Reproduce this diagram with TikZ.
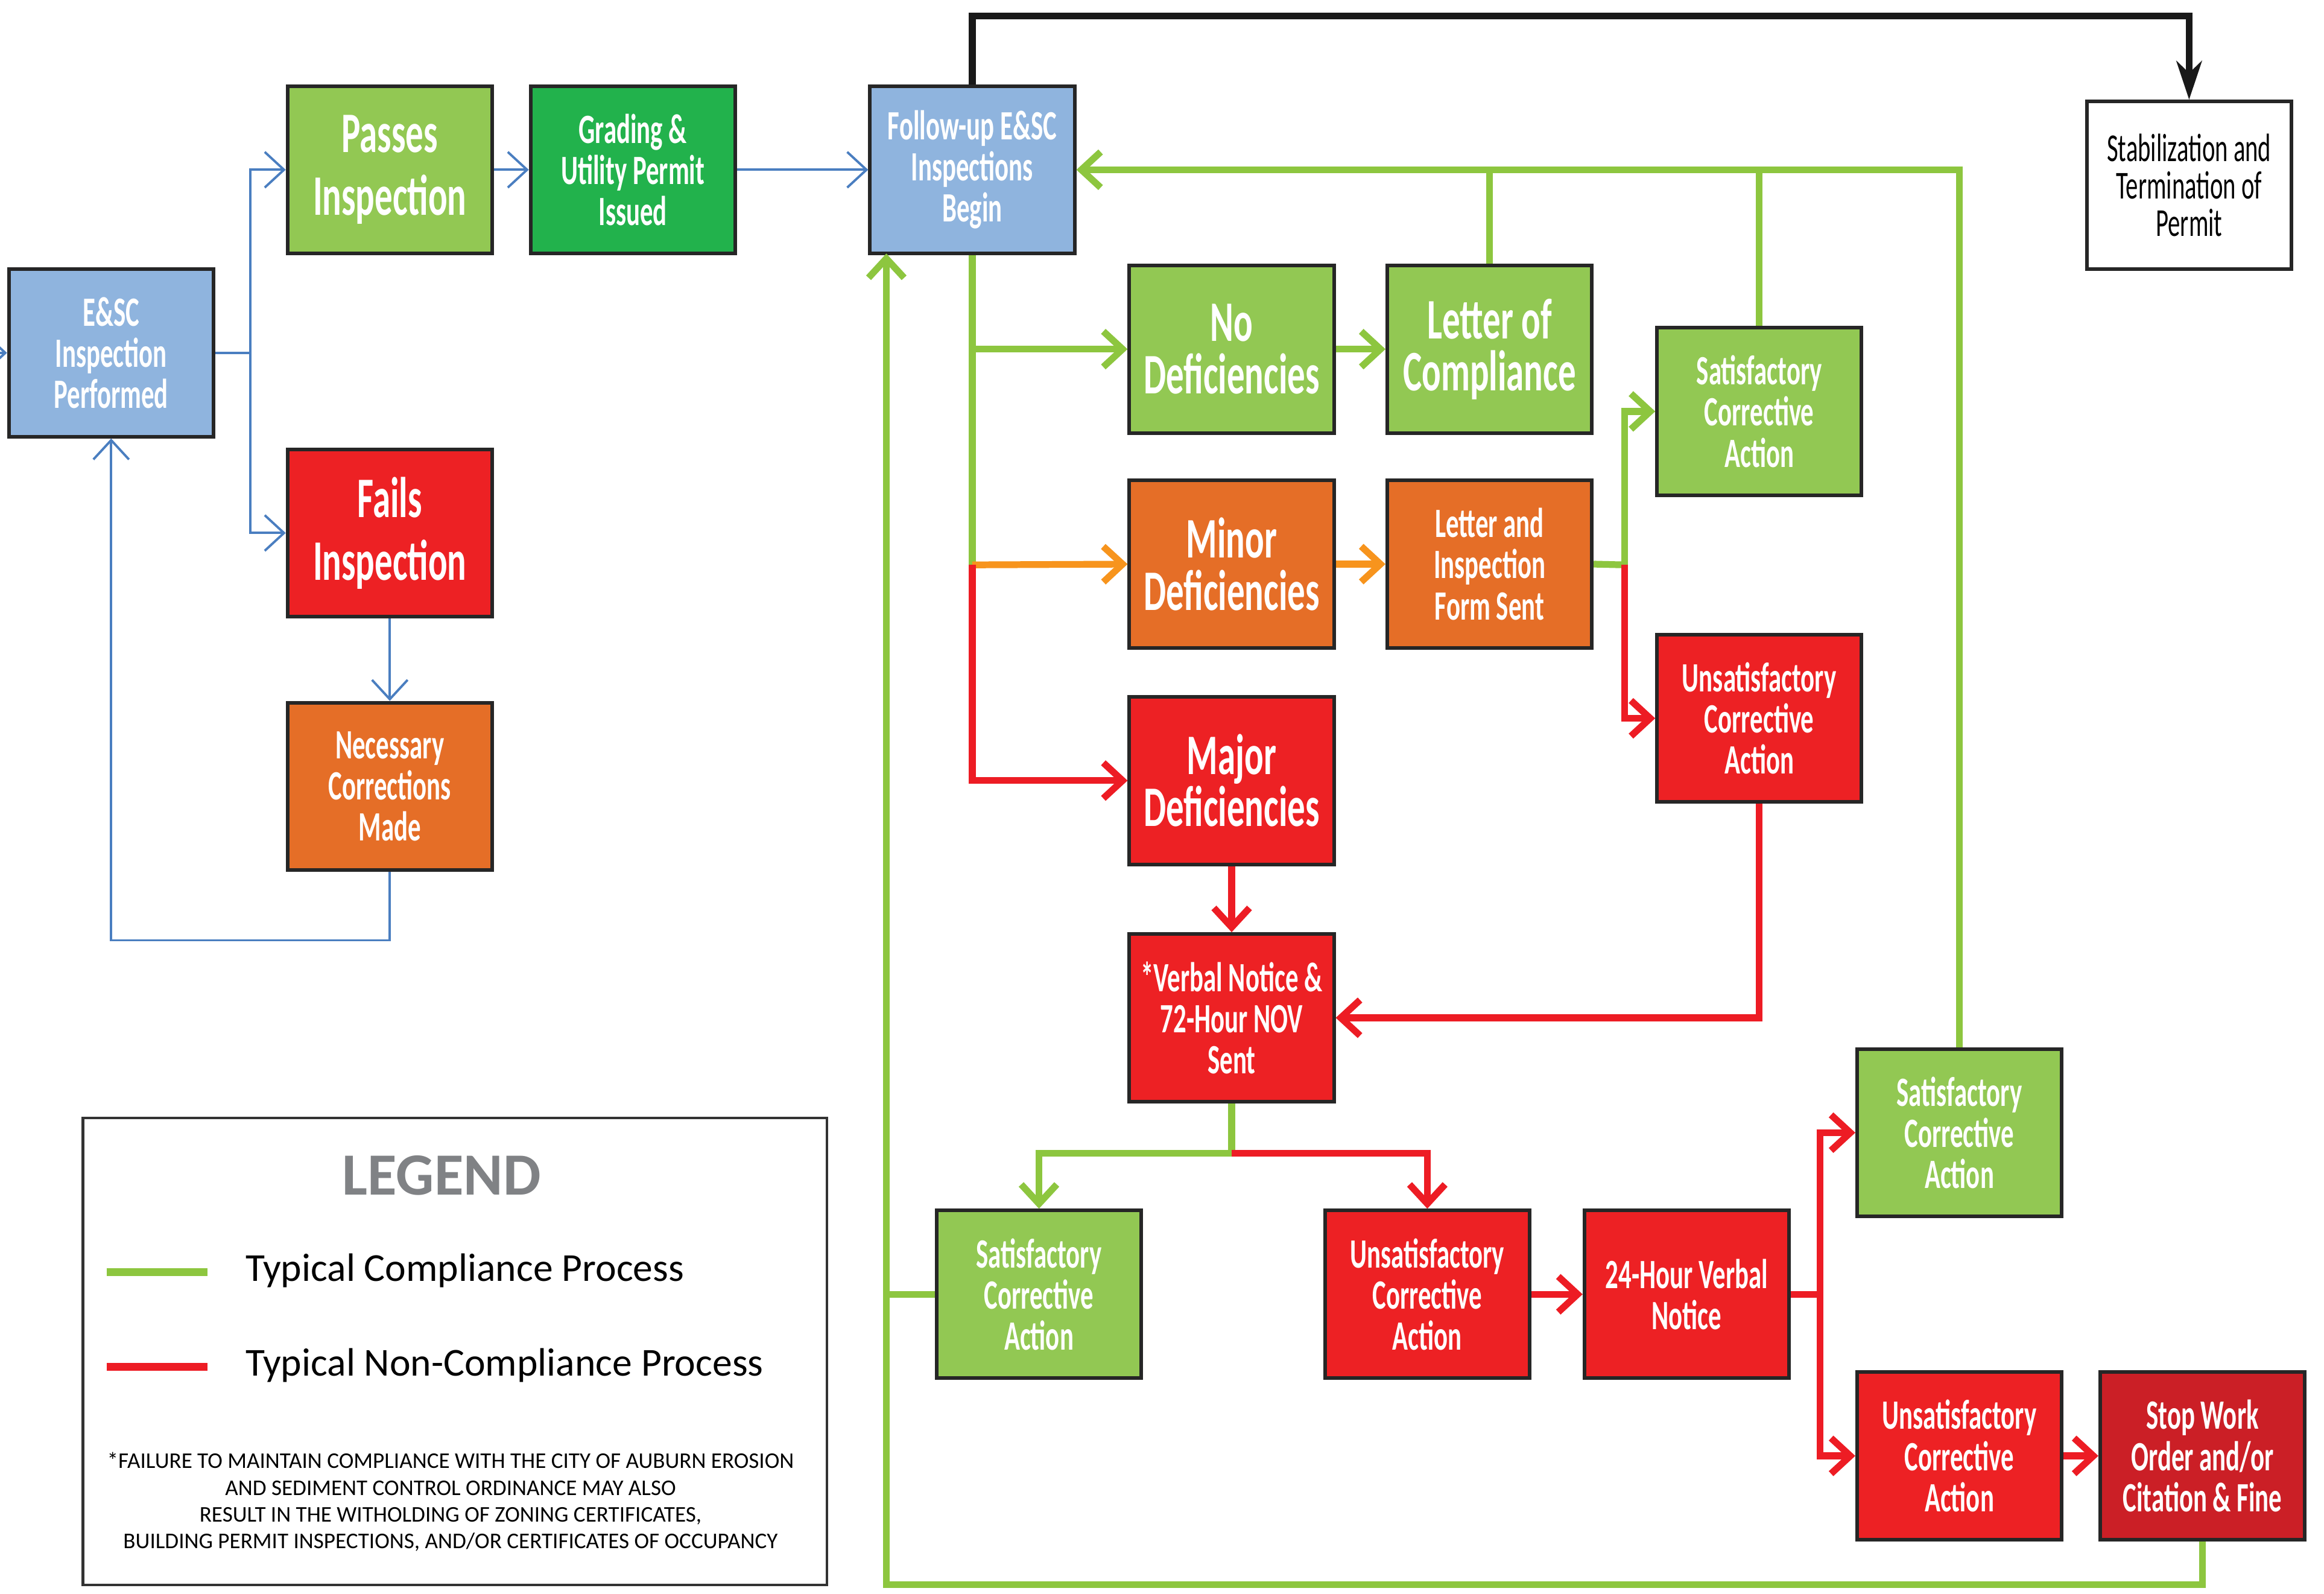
\documentclass[tikz,border=0pt]{standalone}
\usepackage{fontspec}
\setmainfont{Carlito}[FakeStretch=0.62]
\newfontfamily\legendfont{Carlito}
\usepackage{xcolor}
\usepackage{tikz}
\usetikzlibrary{arrows.meta}

\definecolor{fillblue}{HTML}{8FB4DE}
\definecolor{fillgreen}{HTML}{92C853}
\definecolor{filldkgreen}{HTML}{22B24C}
\definecolor{fillred}{HTML}{ED2124}
\definecolor{filldkred}{HTML}{CB1F26}
\definecolor{fillorange}{HTML}{E56E27}
\definecolor{lineblue}{HTML}{4A7EC0}
\definecolor{linegreen}{HTML}{8DC63F}
\definecolor{linered}{HTML}{ED1C24}
\definecolor{lineorange}{HTML}{F7941D}
\definecolor{legendgray}{HTML}{808285}

\tikzset{
  box/.style={draw=black!85, line width=0.7pt, minimum width=13.8mm, minimum height=11.3mm,
    inner sep=1pt, align=center, text=white, font=\bfseries\fontsize{8}{7.9}\selectfont},
  bigbox/.style={box, font=\bfseries\fontsize{11}{12}\selectfont},
  defbox/.style={box, font=\bfseries\fontsize{11}{10}\selectfont},
  arr/.style={-{Straight Barb[length=1.3mm,width=2.4mm]}},
  bline/.style={draw=lineblue, line width=0.45pt},
  gline/.style={draw=linegreen, line width=1.3pt},
  rline/.style={draw=linered, line width=1.3pt},
  oline/.style={draw=lineorange, line width=1.3pt},
  kline/.style={draw=black!90, line width=1.3pt, -{Stealth[length=2.6mm,width=1.7mm,inset=0.8mm]}}
}

\begin{document}
\begin{tikzpicture}[x=0.1mm, y=-0.1mm]
			\useasboundingbox (0,0) rectangle (1568,1075);
			% boxes, left part
			\node[box, fill=fillblue] (esc) at (75,238) {E\&SC\\Inspection\\Performed};
			\node[bigbox, fill=fillgreen] (passes) at (263,114.5) {Passes\\Inspection};
			\node[box, fill=filldkgreen] (grading) at (427,114.5) {Grading \&\\Utility Permit\\Issued};
			\node[bigbox, fill=fillred] (fails) at (263,359.5) {Fails\\Inspection};
			\node[box, fill=fillorange] (necessary) at (263,530.5) {Necessary\\Corrections\\Made};
			% boxes, follow-up part
			\node[box, fill=fillblue] (followup) at (656,114.5) {Follow-up E\&SC\\Inspections\\Begin};
			\node[box, fill=white, text=black, font=\fontsize{7.6}{7.2}\selectfont] (stab) at (1477,125) {Stabilization and\\Termination of\\Permit};
			\node[defbox, fill=fillgreen] (nodef) at (831,235.5) {No\\Deficiencies};
			\node[defbox, fill=fillgreen] (letter) at (1005,235.5) {Letter of\\Compliance};
			\node[box, fill=fillgreen] (satisA) at (1187,277.5) {Satisfactory\\Corrective\\Action};
			\node[defbox, fill=fillorange] (minor) at (831,380.5) {Minor\\Deficiencies};
			\node[box, fill=fillorange] (letterinsp) at (1005,380.5) {Letter and\\Inspection\\Form Sent};
			\node[box, fill=fillred] (unsatA) at (1187,484.5) {Unsatisfactory\\Corrective\\Action};
			\node[defbox, fill=fillred] (major) at (831,526.5) {Major\\Deficiencies};
			\node[box, fill=fillred] (verbal) at (831,686.5) {*Verbal Notice \&\\72-Hour NOV\\Sent};
			\node[box, fill=fillgreen] (satisB) at (701,873) {Satisfactory\\Corrective\\Action};
			\node[box, fill=fillred] (unsatB) at (963,873) {Unsatisfactory\\Corrective\\Action};
			\node[box, fill=fillred] (hour) at (1138,873) {24-Hour Verbal\\Notice};
			\node[box, fill=fillgreen] (satisC) at (1322,764) {Satisfactory\\Corrective\\Action};
			\node[box, fill=fillred] (unsatC) at (1322,982) {Unsatisfactory\\Corrective\\Action};
			\node[box, fill=filldkred] (stop) at (1486,982) {Stop Work\\Order and/or\\Citation \& Fine};
			% split points
			\coordinate (instub) at (-12,238);
			\coordinate (bsplit) at (169,238);
			\coordinate (gsplit) at (656,381);
			\coordinate (lsplit) at (1096,381);
			\coordinate (vsplit) at (831,778);
			\coordinate (hsplit) at (1228,873);
			\coordinate (gin) at (598,171);
			\coordinate (gcorner) at (598,1069);
			% blue connectors
			\draw[bline, arr] (instub) -- (esc.west);
			\draw[bline] (esc.east) -- (bsplit);
			\draw[bline, arr] (bsplit) |- (passes.west);
			\draw[bline, arr] (bsplit) |- (fails.west);
			\draw[bline, arr] (necessary.south) -- ++(0,46) -| (esc.south);
			\foreach \a/\b/\s in {passes/grading/bline, grading/followup/bline, fails/necessary/bline,
			  nodef/letter/gline, minor/letterinsp/oline, major/verbal/rline,
			  unsatB/hour/rline, unsatC/stop/rline}
			\draw[\s, arr] (\a) -- (\b);
			% to stabilization
			\draw[kline] (followup.north) -- ++(0,-46) -| (stab.north);
			% green and red paths
			\draw[gline] (followup.south) -- (gsplit);
			\draw[gline, arr] (followup.south |- nodef.west) -- (nodef.west);
			\draw[oline, arr] (gsplit) -- (minor.west);
			\draw[rline, arr] (gsplit) |- (major.west);
			\foreach \n in {letter, satisA}
			\draw[gline] (\n.north) -- (\n.north |- followup.east);
			\draw[gline, arr] (satisC.north) |- (followup.east);
			\draw[gline] (letterinsp.east) -- (lsplit);
			\draw[gline, arr] (lsplit) |- (satisA.west);
			\draw[rline, arr] (lsplit) |- (unsatA.west);
			\draw[rline, arr] (unsatA.south) |- (verbal.east);
			\draw[gline] (verbal.south) -- (vsplit);
			\draw[gline, arr] (vsplit) -| (satisB.north);
			\draw[rline, arr] (vsplit) -| (unsatB.north);
			\draw[rline] (hour.east) -- (hsplit);
			\draw[rline, arr] (hsplit) |- (satisC.west);
			\draw[rline, arr] (hsplit) |- (unsatC.west);
			\draw[gline, arr] (stop.south) |- (gcorner) -- (gin);
			\draw[gline] (satisB.west) -- (satisB.west -| gin);
			% legend
			\draw[black!80, line width=0.5pt] (56,754) rectangle (558,1069);
			\node[text=legendgray, font=\legendfont\bfseries\fontsize{11.5}{12}\selectfont] (legend) at (298,793) {LEGEND};
			\coordinate (gkeyA) at (72,858);
			\coordinate (gkeyB) at (140,858);
			\coordinate (rkeyA) at (72,922);
			\coordinate (rkeyB) at (140,922);
			\draw[linegreen, line width=1.5pt] (gkeyA) -- (gkeyB);
			\draw[linered, line width=1.5pt] (rkeyA) -- (rkeyB);
			\node[anchor=west, font=\legendfont\fontsize{7.6}{9}\selectfont, inner sep=0] (gkey) at (165,857) {Typical Compliance Process};
			\node[anchor=west, font=\legendfont\fontsize{7.6}{9}\selectfont, inner sep=0] (rkey) at (165,921) {Typical Non-Compliance Process};
			\node[align=center, font=\legendfont\fontsize{4.3}{5.1}\selectfont, inner sep=0] (note) at (304,1013)
			{*FAILURE TO MAINTAIN COMPLIANCE WITH THE CITY OF AUBURN EROSION\\
			AND SEDIMENT CONTROL ORDINANCE MAY ALSO\\
			RESULT IN THE WITHOLDING OF ZONING CERTIFICATES,\\
			BUILDING PERMIT INSPECTIONS, AND/OR CERTIFICATES OF OCCUPANCY};
		\end{tikzpicture}
\end{document}
